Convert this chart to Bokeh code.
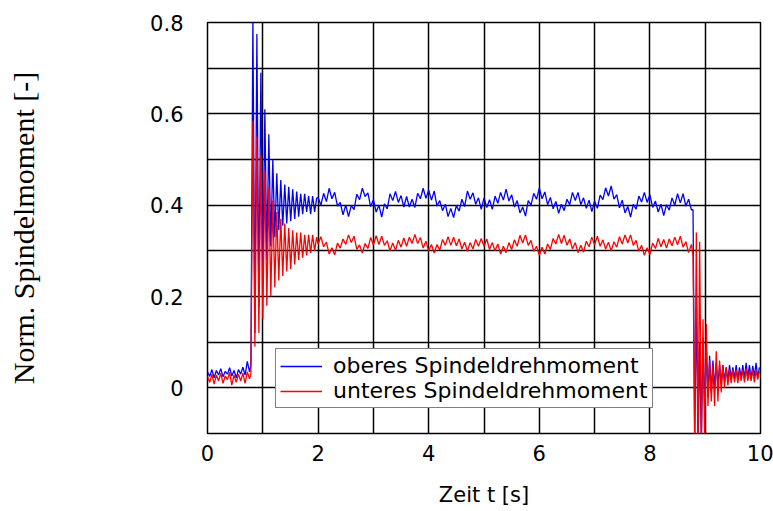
import numpy as np
from bokeh.plotting import figure
from bokeh.models import Range1d, FixedTicker, Legend, LegendItem
from bokeh.embed import file_html
from bokeh.resources import INLINE

# ---- data ----
# sample grids (start, step, count) of the four recording segments
PRE_GRID = (0.0, 0.04, 20)
RISE_GRID = (0.785, 0.036, 34)
STEADY_GRID = (2.0, 0.05, 136)
END_GRID = (8.78, 0.03, 41)

BLUE_PRE = [0.035, 0.025, 0.040, 0.022, 0.038, 0.028, 0.042, 0.024, 0.036, 0.030,
            0.044, 0.026, 0.038, 0.022, 0.040, 0.030, 0.045, 0.028, 0.058, 0.035]
RED_PRE = [0.025, 0.012, 0.030, 0.008, 0.028, 0.015, 0.032, 0.010, 0.026, 0.018,
           0.034, 0.006, 0.028, 0.012, 0.030, 0.015, 0.032, 0.010, 0.035, 0.020]

BLUE_RISE = [0.05, 0.81, 0.12, 0.775, 0.18, 0.69, 0.24, 0.61, 0.28, 0.555,
             0.31, 0.50, 0.33, 0.47, 0.345, 0.455, 0.355, 0.445, 0.36, 0.44,
             0.365, 0.435, 0.37, 0.43, 0.375, 0.425, 0.38, 0.425, 0.385, 0.42,
             0.38, 0.42, 0.385, 0.415]
RED_RISE = [0.03, 0.585, 0.09, 0.55, 0.12, 0.51, 0.15, 0.475, 0.18, 0.44,
            0.20, 0.41, 0.22, 0.385, 0.235, 0.37, 0.245, 0.36, 0.255, 0.35,
            0.26, 0.345, 0.27, 0.34, 0.28, 0.34, 0.285, 0.335, 0.29, 0.335,
            0.295, 0.335, 0.30, 0.33]

BLUE_STEADY = [
    0.417, 0.400, 0.426, 0.408, 0.437, 0.414, 0.428, 0.398, 0.406, 0.379,
    0.400, 0.375, 0.399, 0.390, 0.424, 0.412, 0.437, 0.419, 0.427, 0.397,
    0.412, 0.385, 0.400, 0.374, 0.403, 0.392, 0.425, 0.410, 0.430, 0.406,
    0.421, 0.396, 0.419, 0.396, 0.413, 0.395, 0.426, 0.414, 0.437, 0.415,
    0.433, 0.411, 0.431, 0.398, 0.410, 0.388, 0.402, 0.375, 0.393, 0.373,
    0.399, 0.387, 0.413, 0.397, 0.431, 0.413, 0.427, 0.402, 0.416, 0.391,
    0.416, 0.395, 0.412, 0.391, 0.420, 0.404, 0.428, 0.411, 0.435, 0.409,
    0.423, 0.396, 0.410, 0.383, 0.396, 0.376, 0.410, 0.400, 0.426, 0.413,
    0.437, 0.414, 0.429, 0.401, 0.417, 0.392, 0.408, 0.382, 0.402, 0.388,
    0.413, 0.401, 0.428, 0.410, 0.428, 0.401, 0.416, 0.393, 0.411, 0.386,
    0.409, 0.393, 0.422, 0.412, 0.438, 0.420, 0.442, 0.413, 0.423, 0.394,
    0.411, 0.383, 0.397, 0.374, 0.402, 0.391, 0.420, 0.407, 0.428, 0.406,
    0.423, 0.395, 0.409, 0.385, 0.402, 0.377, 0.401, 0.389, 0.416, 0.400,
    0.425, 0.405, 0.425, 0.398, 0.413, 0.390]
RED_STEADY = [
    0.315, 0.331, 0.309, 0.319, 0.293, 0.307, 0.291, 0.317, 0.306, 0.326,
    0.314, 0.335, 0.318, 0.332, 0.303, 0.313, 0.295, 0.316, 0.305, 0.329,
    0.313, 0.333, 0.314, 0.332, 0.312, 0.322, 0.300, 0.317, 0.301, 0.323,
    0.308, 0.328, 0.310, 0.330, 0.316, 0.336, 0.316, 0.329, 0.306, 0.321,
    0.300, 0.314, 0.295, 0.314, 0.301, 0.325, 0.312, 0.331, 0.312, 0.330,
    0.311, 0.326, 0.304, 0.319, 0.299, 0.318, 0.304, 0.325, 0.310, 0.327,
    0.310, 0.326, 0.303, 0.318, 0.300, 0.315, 0.293, 0.310, 0.296, 0.318,
    0.303, 0.324, 0.310, 0.334, 0.317, 0.335, 0.312, 0.323, 0.299, 0.310,
    0.290, 0.308, 0.293, 0.315, 0.303, 0.327, 0.315, 0.336, 0.316, 0.334,
    0.312, 0.326, 0.304, 0.318, 0.296, 0.312, 0.297, 0.321, 0.309, 0.330,
    0.313, 0.332, 0.310, 0.324, 0.304, 0.319, 0.300, 0.320, 0.308, 0.331,
    0.315, 0.335, 0.317, 0.335, 0.312, 0.323, 0.299, 0.312, 0.290, 0.307,
    0.292, 0.317, 0.305, 0.327, 0.309, 0.325, 0.306, 0.326, 0.311, 0.330,
    0.313, 0.332, 0.308, 0.320, 0.296, 0.314]

BLUE_END = [0.39, -0.12, 0.20, -0.13, 0.10, -0.12, 0.11, -0.05, 0.09, -0.02,
            0.07, -0.01, 0.06, 0.0, 0.055, 0.005, 0.05, 0.01, 0.05, 0.015,
            0.045, 0.015, 0.05, 0.02, 0.045, 0.02, 0.05, 0.018, 0.045, 0.022,
            0.05, 0.02, 0.055, 0.022, 0.05, 0.02, 0.048, 0.025, 0.055, 0.022,
            0.045]
RED_END = [0.29, -0.12, 0.34, -0.13, 0.32, -0.13, 0.15, -0.12, 0.14, -0.04,
           0.06, -0.03, 0.05, -0.04, 0.08, -0.03, 0.06, -0.01, 0.05, 0.0,
           0.045, 0.005, 0.04, 0.01, 0.04, 0.012, 0.04, 0.01, 0.038, 0.015,
           0.04, 0.012, 0.042, 0.015, 0.038, 0.015, 0.04, 0.012, 0.038, 0.018,
           0.035]

X_LABEL_TICKS = [0, 2, 4, 6, 8, 10]
Y_LABEL_TICKS = [0, 0.2, 0.4, 0.6, 0.8]
X_GRID = list(range(0, 11))
Y_GRID = [-0.1, 0.0, 0.1, 0.2, 0.3, 0.4, 0.5, 0.6, 0.7, 0.8]
SERIES_NAMES = ["oberes Spindeldrehmoment", "unteres Spindeldrehmoment"]


def grid(g):
    start, step, n = g
    return start + step * np.arange(n)


t = np.concatenate([grid(PRE_GRID), grid(RISE_GRID), grid(STEADY_GRID), grid(END_GRID)])
blue = np.array(BLUE_PRE + BLUE_RISE + BLUE_STEADY + BLUE_END)
red = np.array(RED_PRE + RED_RISE + RED_STEADY + RED_END)

p = figure(width=773, height=511, output_backend="svg", toolbar_location=None,
           x_range=Range1d(0, 10), y_range=Range1d(-0.1, 0.8),
           min_border_left=207, min_border_right=13, min_border_top=22,
           min_border_bottom=78)
p.background_fill_color = "white"
p.border_fill_color = "white"
p.outline_line_color = "black"
p.outline_line_width = 1.5

for ax in (p.xaxis[0], p.yaxis[0]):
    ax.axis_line_color = None
    ax.major_tick_line_color = None
    ax.minor_tick_line_color = None
    ax.major_label_text_font = "DejaVu Sans"
    ax.major_label_text_font_size = "21px"
    ax.major_label_text_color = "black"
    ax.axis_label_text_color = "black"
    ax.axis_label_text_font_style = "normal"

p.xaxis.ticker = FixedTicker(ticks=X_LABEL_TICKS)
p.yaxis.ticker = FixedTicker(ticks=Y_LABEL_TICKS)
p.yaxis.major_label_overrides = {0: "0", 0.2: "0.2", 0.4: "0.4", 0.6: "0.6", 0.8: "0.8"}
p.xaxis.major_label_standoff = 5
p.yaxis.major_label_standoff = 18

p.xaxis.axis_label = "Zeit t [s]"
p.xaxis.axis_label_text_font = "DejaVu Sans"
p.xaxis.axis_label_text_font_size = "21px"
p.xaxis.axis_label_standoff = 19

p.yaxis.axis_label = "Norm. Spindelmoment [-]"
p.yaxis.axis_label_text_font = "Liberation Serif"
p.yaxis.axis_label_text_font_size = "30px"
p.yaxis.axis_label_standoff = 107

p.xgrid.ticker = FixedTicker(ticks=X_GRID)
p.ygrid.ticker = FixedTicker(ticks=Y_GRID)
for g in (p.xgrid[0], p.ygrid[0]):
    g.grid_line_color = "black"
    g.grid_line_width = 1.5
    g.grid_line_alpha = 1.0

r_blue = p.line(t, blue, line_color="#0000ff", line_width=1.3)
r_red = p.line(t, red, line_color="#ff0000", line_width=1.3)

legend = Legend(items=[LegendItem(label=SERIES_NAMES[0], renderers=[r_blue]),
                       LegendItem(label=SERIES_NAMES[1], renderers=[r_red])],
                location=(68, 25))
legend.label_text_font = "DejaVu Sans"
legend.label_text_font_size = "22px"
legend.label_text_color = "black"
legend.glyph_width = 42
legend.glyph_height = 20
legend.label_height = 20
legend.label_standoff = 11
legend.padding = 4
legend.spacing = 0
legend.margin = 0
legend.border_line_color = "black"
legend.border_line_width = 1.5
legend.background_fill_alpha = 1.0
p.add_layout(legend, "center")

open("out.html", "w").write(file_html(p, INLINE))
